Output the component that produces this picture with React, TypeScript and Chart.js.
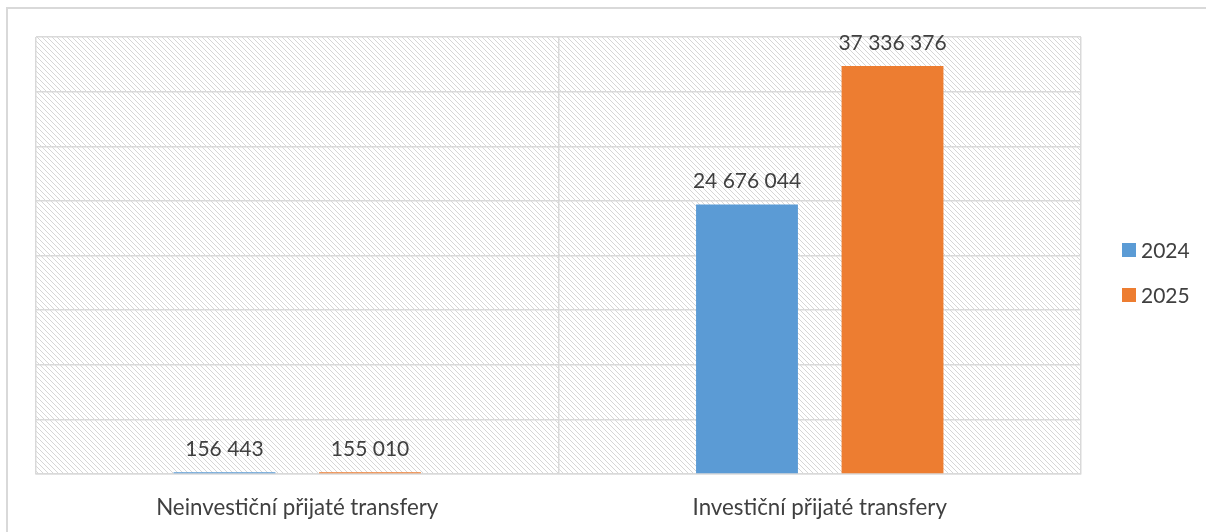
import React, { useEffect, useRef } from "react";
import { Chart, registerables } from "chart.js";

Chart.register(...registerables);

const categories = ["Neinvestiční přijaté transfery", "Investiční přijaté transfery"];
const seriesLabels = ["2024", "2025"];
const values2024 = [156443, 24676044];
const values2025 = [155010, 37336376];
const seriesColors = ["#5B9BD5", "#ED7D31"];
const yMax = 40000000;
const yStep = 5000000;

const FONT = "Lato, 'Open Sans', sans-serif";
const TEXT = "#404040";
const GRID = "#d9d9d9";

function fmt(v: number): string {
  return String(v).replace(/\B(?=(\d{3})+(?!\d))/g, " ");
}

function makePattern(ctx: CanvasRenderingContext2D): CanvasPattern | string {
  const s = 5;
  const c = document.createElement("canvas");
  c.width = s;
  c.height = s;
  const g = c.getContext("2d");
  if (!g) return "#fff";
  g.fillStyle = "#ffffff";
  g.fillRect(0, 0, s, s);
  g.fillStyle = "#d6d6d6";
  for (let i = 0; i < s; i++) g.fillRect(i, i, 1, 1);
  return ctx.createPattern(c, "repeat") || "#fff";
}

const framePlugin = {
  id: "framePlugin",
  beforeDraw(chart: any) {
    const { ctx, chartArea, width, height } = chart;
    ctx.save();
    ctx.fillStyle = "#ffffff";
    ctx.fillRect(0, 0, width, height);
    ctx.strokeStyle = GRID;
    ctx.lineWidth = 2;
    ctx.strokeRect(7, 8, width + 20, height + 20);
    ctx.fillStyle = makePattern(ctx);
    ctx.fillRect(chartArea.left, chartArea.top, chartArea.right - chartArea.left, chartArea.bottom - chartArea.top);
    ctx.restore();
  },
};

const valueLabelPlugin = {
  id: "valueLabelPlugin",
  afterDatasetsDraw(chart: any) {
    const { ctx } = chart;
    ctx.save();
    ctx.font = `21px ${FONT}`;
    ctx.fillStyle = TEXT;
    ctx.textAlign = "center";
    ctx.textBaseline = "alphabetic";
    chart.data.datasets.forEach((ds: any, di: number) => {
      const meta = chart.getDatasetMeta(di);
      meta.data.forEach((el: any, i: number) => {
        ctx.fillText(fmt(ds.data[i]), el.x, el.y - 16);
      });
    });
    ctx.restore();
  },
};

const legendPlugin = {
  id: "customLegend",
  afterDraw(chart: any) {
    const { ctx, chartArea } = chart;
    ctx.save();
    ctx.font = `21px ${FONT}`;
    ctx.textBaseline = "middle";
    ctx.textAlign = "left";
    const x = chartArea.right + 41;
    const y0 = chartArea.top + 213;
    chart.data.datasets.forEach((ds: any, i: number) => {
      const y = y0 + i * 45;
      ctx.fillStyle = ds.backgroundColor;
      ctx.fillRect(x, y - 7, 14, 14);
      ctx.fillStyle = TEXT;
      ctx.fillText(ds.label, x + 19, y + 1);
    });
    ctx.restore();
  },
};

export default function App() {
  const ref = useRef<HTMLCanvasElement | null>(null);

  useEffect(() => {
    if (!ref.current) return;
    const chart = new Chart(ref.current, {
      type: "bar",
      data: {
        labels: categories,
        datasets: [
          { label: seriesLabels[0], data: values2024, backgroundColor: seriesColors[0] },
          { label: seriesLabels[1], data: values2025, backgroundColor: seriesColors[1] },
        ],
      },
      options: {
        animation: false,
        responsive: false,
        maintainAspectRatio: false,
        layout: { padding: { left: 36, top: 37, right: 125, bottom: 0 } },
        datasets: { bar: { categoryPercentage: 0.557, barPercentage: 0.7 } },
        plugins: {
          legend: { display: false },
          tooltip: { enabled: false },
        },
        scales: {
          x: {
            grid: { color: GRID, lineWidth: 1.5, drawTicks: false, offset: true },
            border: { display: true, color: GRID, width: 1.5 },
            ticks: { color: TEXT, font: { family: FONT, size: 22.3 }, padding: 20 },
            afterFit(scale: any) {
              scale.height = 58;
            },
          },
          y: {
            min: 0,
            max: yMax,
            grid: { color: GRID, lineWidth: 1.5, drawTicks: false },
            border: { display: false },
            ticks: { display: false, stepSize: yStep },
            afterFit(scale: any) {
              scale.width = 0;
            },
          },
        },
      },
      plugins: [framePlugin, valueLabelPlugin, legendPlugin],
    } as any);
    return () => chart.destroy();
  }, []);

  return (
    <div style={{ position: "fixed", left: 0, top: 0, width: 1206, height: 532, overflow: "hidden" }}>
      <canvas ref={ref} width={1206} height={532} style={{ display: "block" }} />
    </div>
  );
}
